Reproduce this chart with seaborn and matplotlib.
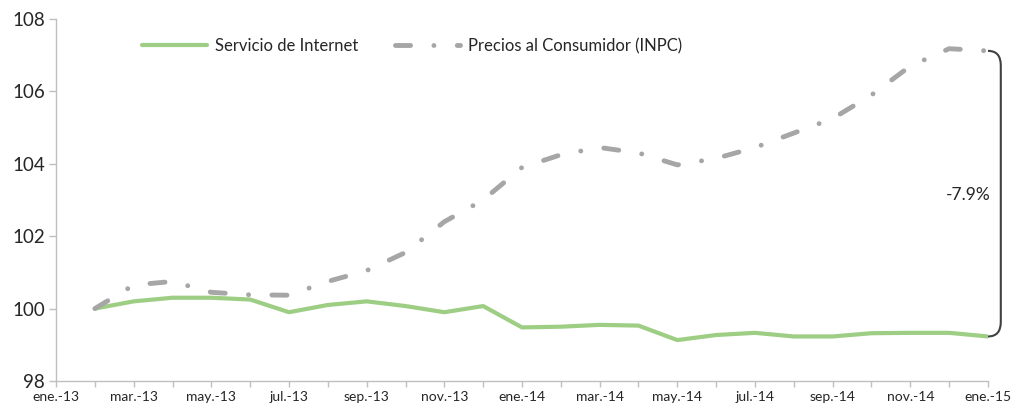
import numpy as np
import pandas as pd
import seaborn as sns
import matplotlib.pyplot as plt
from matplotlib.path import Path
from matplotlib.patches import PathPatch

# monthly index (feb-13 .. ene-15), base = 100
meses = list(range(1, 25))
internet = [100.0, 100.2, 100.3, 100.3, 100.25, 99.9, 100.1, 100.2, 100.07, 99.9, 100.07, 99.48,
            99.5, 99.55, 99.53, 99.13, 99.27, 99.33, 99.23, 99.23, 99.32, 99.33, 99.33, 99.23]
inpc = [100.0, 100.65, 100.75, 100.45, 100.38, 100.37, 100.75, 101.05, 101.55, 102.4, 103.0, 103.9,
        104.25, 104.45, 104.3, 103.97, 104.15, 104.45, 104.85, 105.25, 105.9, 106.7, 107.18, 107.12]

tick_pos = list(range(0, 25, 2))
tick_labels = ['ene.-13', 'mar.-13', 'may.-13', 'jul.-13', 'sep.-13', 'nov.-13', 'ene.-14',
               'mar.-14', 'may.-14', 'jul.-14', 'sep.-14', 'nov.-14', 'ene.-15']

df_int = pd.DataFrame({'mes': meses, 'valor': internet})
df_inpc = pd.DataFrame({'mes': meses, 'valor': inpc})

sns.set_style('white')
plt.rcParams['font.family'] = ['Lato', 'DejaVu Sans']

fig = plt.figure(figsize=(10.13, 4.09), dpi=100)
ax = fig.add_axes([0.0553, 0.0685, 0.9200, 0.8850])

verde = '#9DCE84'
gris = '#A6A6A6'

sns.lineplot(data=df_int, x='mes', y='valor', ax=ax, color=verde, linewidth=3,
             label='Servicio de Internet')
sns.lineplot(data=df_inpc, x='mes', y='valor', ax=ax, color=gris, linewidth=3.5,
             label='Precios al Consumidor (INPC)')
l_inpc = ax.lines[1]
l_inpc.set_dashes((3.1, 4.8, 0.01, 4.8))
l_inpc.set_dash_capstyle('round')
ax.lines[0].set_solid_joinstyle('round')

ax.set_xlim(0, 24)
ax.set_ylim(98, 108)
ax.set_yticks([98, 100, 102, 104, 106, 108])
ax.set_xticks(tick_pos)
ax.set_xticklabels(tick_labels)
ax.set_xticks(range(0, 25), minor=True)
ax.set_xlabel('')
ax.set_ylabel('')

for s in ['top', 'right']:
    ax.spines[s].set_visible(False)
for s in ['left', 'bottom']:
    ax.spines[s].set_color('#BFBFBF')
    ax.spines[s].set_linewidth(1)

ax.tick_params(axis='y', which='major', left=True, length=5, width=1, color='#BFBFBF',
               labelsize=13.5, labelcolor='#262626', pad=3)
ax.tick_params(axis='x', which='both', bottom=True, length=4, width=1, color='#BFBFBF',
               labelsize=10, labelcolor='#262626', pad=3)

# bracket between the two final values
xe = meses[-1]
xb = xe + 0.33
top, bot = inpc[-1], internet[-1]
verts = [(xe, top), (xb, top), (xb, top - 0.4), (xb, bot + 0.4), (xb, bot), (xe, bot)]
codes = [Path.MOVETO, Path.CURVE3, Path.CURVE3, Path.LINETO, Path.CURVE3, Path.CURVE3]
ax.add_patch(PathPatch(Path(verts, codes), fill=False, edgecolor='#404040', lw=1.5, clip_on=False))
ax.text(23.5, 103.15, '-7.9%', ha='center', va='center', fontsize=12.5, color='#262626')

ax.get_legend().remove()
h, l = ax.get_legend_handles_labels()
fig.legend(h, l, loc='center left', bbox_to_anchor=(0.125, 1 - 46 / 409), ncol=2,
           frameon=False, fontsize=12, handlelength=3.9, columnspacing=2.2,
           handletextpad=0.5, labelcolor='#262626')

fig.savefig('out.png', dpi=100)
